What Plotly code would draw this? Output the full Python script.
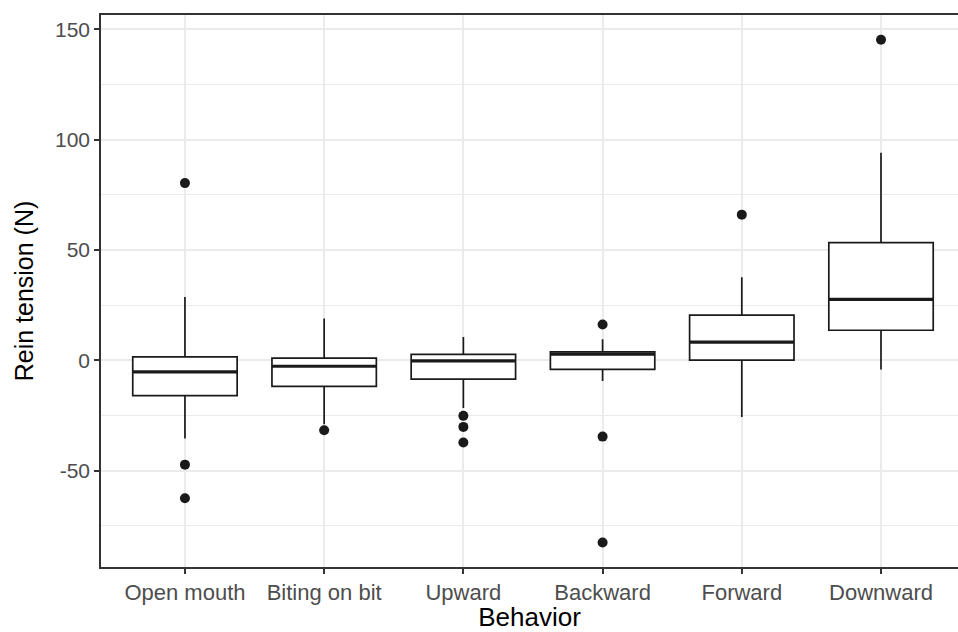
import plotly.graph_objects as go

categories = ["Open mouth", "Biting on bit", "Upward", "Backward", "Forward", "Downward"]
q1 = [-16.0, -11.8, -8.5, -4.1, 0.1, 13.6]
median = [-5.3, -2.7, -0.3, 2.8, 8.2, 27.6]
q3 = [1.5, 1.0, 2.7, 3.8, 20.5, 53.3]
lower_whisker = [-35.5, -29.0, -21.6, -9.4, -25.7, -4.2]
upper_whisker = [28.7, 18.9, 10.6, 9.5, 37.6, 94.1]
outliers = {
    "Open mouth": [80.3, -47.3, -62.5],
    "Biting on bit": [-31.7],
    "Upward": [-25.2, -30.2, -37.3],
    "Backward": [16.2, -34.6, -82.6],
    "Forward": [66.0],
    "Downward": [145.3],
}
y_ticks = [-50, 0, 50, 100, 150]
y_tick_labels = ["-50", "0", "50", "100", "150"]

idx = list(range(len(categories)))
box_w = 0.75

fig = go.Figure()
fig.add_trace(go.Box(
    x=idx, q1=q1, median=median, q3=q3,
    lowerfence=lower_whisker, upperfence=upper_whisker,
    width=box_w, whiskerwidth=0, boxpoints=False,
    fillcolor="white", line=dict(color="#1a1a1a", width=1.7),
    showlegend=False, hoverinfo="skip",
))

# thicker median lines (ggplot fatten)
mx, my = [], []
for i, m in zip(idx, median):
    mx += [i - box_w / 2, i + box_w / 2, None]
    my += [m, m, None]
fig.add_trace(go.Scatter(x=mx, y=my, mode="lines",
                         line=dict(color="#1a1a1a", width=3.2),
                         showlegend=False, hoverinfo="skip"))

ox, oy = [], []
for i, c in zip(idx, categories):
    for v in outliers[c]:
        ox.append(i)
        oy.append(v)
fig.add_trace(go.Scatter(x=ox, y=oy, mode="markers",
                         marker=dict(color="#1a1a1a", size=10),
                         showlegend=False, hoverinfo="skip"))

font_family = "Liberation Sans, Arial, sans-serif"
fig.update_layout(
    width=958, height=632,
    margin=dict(l=101, r=0, t=15, b=65),
    paper_bgcolor="white", plot_bgcolor="white",
    font=dict(family=font_family, color="#000000"),
    xaxis=dict(
        range=[-0.603, 5.553],
        tickmode="array", tickvals=idx, ticktext=categories,
        showgrid=True, gridcolor="#EBEBEB", gridwidth=1.5,
        zeroline=False, automargin=False,
        showline=True, mirror=True, linecolor="#333333", linewidth=1.5,
        ticks="outside", ticklen=5, tickcolor="#333333", tickwidth=1.5,
        tickfont=dict(size=22, color="#4D4D4D"),
        title=dict(text="Behavior", font=dict(size=26, color="#000000"), standoff=6),
    ),
    yaxis=dict(
        range=[-93.7, 156.5],
        tickmode="array", tickvals=y_ticks, ticktext=y_tick_labels,
        showgrid=True, gridcolor="#EBEBEB", gridwidth=1.5,
        minor=dict(tickmode="linear", tick0=25, dtick=50, showgrid=True,
                   gridcolor="#EBEBEB", gridwidth=1.2, ticks=""),
        zeroline=False, automargin=False,
        showline=True, mirror=False, linecolor="#333333", linewidth=1.5,
        ticks="outside", ticklen=5, tickcolor="#333333", tickwidth=1.5,
        tickfont=dict(size=21, color="#4D4D4D"),
        title=dict(text="Rein tension (N)", font=dict(size=25, color="#000000"), standoff=14),
    ),
)

fig.write_html("out.html", config={"displayModeBar": False},
               post_script="document.body.style.margin='0';")
